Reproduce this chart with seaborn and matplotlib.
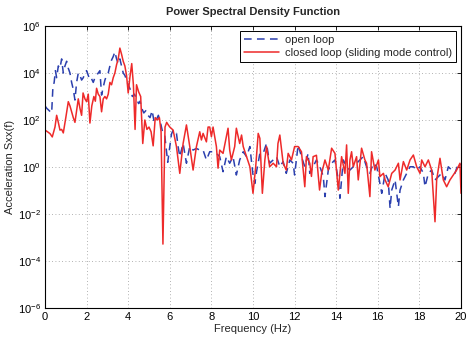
import numpy as np
import pandas as pd
import matplotlib
matplotlib.use("Agg")
import matplotlib.pyplot as plt
import seaborn as sns

# ---------------- data (PSD values as log10 exponents) -------------
open_freq = [0.0, 0.08, 0.2, 0.32, 0.38, 0.44, 0.5, 0.56, 0.64, 0.72, 0.8, 0.88, 0.96, 1.04, 1.12,
             1.2, 1.28, 1.36, 1.44, 1.52, 1.6, 1.68, 1.76, 1.84, 1.92, 2.0, 2.08, 2.16, 2.24, 2.32,
             2.4, 2.48, 2.56, 2.64, 2.72, 2.8, 2.88, 2.96, 3.04, 3.12, 3.2, 3.28, 3.36, 3.44, 3.52,
             3.6, 3.68, 3.76, 3.84, 3.92, 4.0, 4.1, 4.2, 4.3, 4.4, 4.5, 4.57, 4.65, 4.75, 4.85,
             4.95, 5.05, 5.15, 5.25, 5.35, 5.45, 5.55, 5.65, 5.75, 5.85, 5.9, 6.0, 6.08, 6.16, 6.24,
             6.32, 6.4, 6.48, 6.64, 6.72, 6.8, 6.96, 7.12, 7.28, 7.44, 7.6, 7.76, 7.92, 8.08, 8.24,
             8.4, 8.56, 8.72, 8.88, 9.04, 9.2, 9.36, 9.53, 9.69, 9.85, 10.0, 10.09, 10.17, 10.33,
             10.49, 10.65, 10.8, 10.97, 11.13, 11.29, 11.45, 11.6, 11.77, 11.93, 12.0, 12.17, 12.33,
             12.49, 12.65, 12.73, 12.89, 13.05, 13.22, 13.38, 13.46, 13.62, 13.78, 13.94, 14.1,
             14.18, 14.34, 14.5, 14.66, 14.82, 14.98, 15.14, 15.3, 15.46, 15.62, 15.78, 15.95,
             16.1, 16.19, 16.35, 16.5, 16.59, 16.67, 16.83, 16.99, 17.07, 17.23, 17.39, 17.55,
             17.71, 17.87, 18.03, 18.19, 18.27, 18.43, 18.59, 18.75, 18.91, 19.07, 19.23, 19.39,
             19.55, 19.71, 19.87, 20.0]
open_log10 = [2.6, 2.5, 2.4, 2.3, 3.4, 3.6, 4.1, 3.8, 4.3, 4.2, 4.6, 4.0, 4.3, 4.5, 4.2,
              4.0, 3.6, 3.3, 2.85, 3.6, 4.0, 3.9, 3.7, 3.8, 4.0, 4.1, 3.9, 3.7, 3.75, 3.6,
              3.8, 3.9, 4.0, 4.1, 3.06, 3.4, 3.7, 3.9, 4.0, 4.3, 4.55, 4.7, 4.9, 4.6, 4.4,
              4.6, 4.3, 4.0, 3.9, 3.7, 3.5, 3.3, 3.0, 3.1, 2.9, 2.7, 2.8, 2.5, 2.3, 2.4,
              2.2, 2.1, 2.4, 1.9, 2.0, 2.2, 1.9, 1.5, 1.4, 0.6, 0.2, 0.87, 1.4, 1.57, 1.43,
              1.43, 0.87, 0.44, 1.0, 0.58, 0.16, 0.87, 0.72, 0.79, 0.72, 0.72, 0.3, 0.65, 0.65, 0.58,
              0.44, -0.2, 0.44, 0.16, 0.44, -0.34, 0.3, 0.65, 0.44, 0.87, -0.34, -0.7, -0.2, 0.58,
              0.58, 1.0, 0.16, 0.3, 0.44, 0.01, 0.23, -0.27, 0.3, 0.16, -0.34, 0.94, 0.44,
              0.01, 0.58, -0.27, 0.01, 0.3, 0.01, -0.41, -1.26, -0.13, 0.16, 0.3, -0.55,
              -1.33, 0.3, 0.01, -0.13, 0.01, 0.16, 0.3, 0.44, 0.01, -0.27, 0.16, 0.01,
              -0.7, -1.12, -0.27, -0.55, -1.76, -0.98, -0.55, -1.69, -0.98, -0.55, -0.27, 0.01,
              0.01, -0.13, 0.01, -0.27, -0.84, -0.27, -0.13, -0.55, -0.41, -0.27, -0.55, 0.01,
              -0.13, -0.27, 0.16, 0.09]

closed_freq = [0.0, 0.12, 0.24, 0.35, 0.42, 0.48, 0.56, 0.64, 0.72, 0.8, 0.88, 1.0, 1.12, 1.2,
               1.28, 1.36, 1.44, 1.52, 1.6, 1.68, 1.76, 1.83, 1.92, 2.0, 2.08, 2.16, 2.25, 2.35,
               2.42, 2.48, 2.56, 2.64, 2.72, 2.8, 2.88, 2.96, 3.04, 3.12, 3.2, 3.28, 3.36, 3.44,
               3.52, 3.6, 3.68, 3.76, 3.84, 3.92, 4.0, 4.08, 4.17, 4.25, 4.33, 4.4, 4.5, 4.6,
               4.7, 4.8, 4.9, 5.0, 5.1, 5.2, 5.3, 5.4, 5.5, 5.58, 5.67, 5.77, 5.85, 5.92, 6.0,
               6.16, 6.32, 6.48, 6.64, 6.8, 6.96, 7.12, 7.28, 7.44, 7.52, 7.6, 7.76, 7.84, 7.92,
               8.0, 8.08, 8.24, 8.32, 8.4, 8.56, 8.8, 8.88, 8.96, 9.12, 9.2, 9.36, 9.45, 9.53,
               9.69, 9.85, 10.0, 10.13, 10.25, 10.33, 10.45, 10.57, 10.65, 10.8, 10.97, 11.13,
               11.2, 11.29, 11.45, 11.6, 11.69, 11.85, 12.0, 12.17, 12.33, 12.49, 12.57, 12.73,
               12.81, 12.89, 13.05, 13.2, 13.3, 13.46, 13.62, 13.78, 13.94, 14.1, 14.26, 14.42,
               14.5, 14.58, 14.66, 14.74, 14.82, 14.98, 15.06, 15.22, 15.38, 15.46, 15.62, 15.7,
               15.86, 16.03, 16.1, 16.27, 16.35, 16.5, 16.67, 16.83, 16.99, 17.07, 17.23, 17.39,
               17.55, 17.71, 17.87, 18.03, 18.11, 18.27, 18.43, 18.59, 18.75, 18.83, 18.99,
               19.15, 19.31, 19.47, 19.63, 19.79, 19.95, 20.0]
closed_log10 = [1.57, 1.5, 1.42, 1.28, 1.5, 1.7, 2.2, 1.9, 1.57, 1.6, 1.45, 2.1, 2.78, 2.6,
                2.35, 2.1, 1.9, 2.4, 2.9, 2.5, 2.2, 3.15, 2.9, 2.78, 3.1, 1.87, 2.6, 3.0,
                2.8, 3.35, 3.1, 3.0, 2.35, 2.9, 3.0, 2.9, 3.1, 3.6, 3.5, 3.8, 4.0, 4.35,
                4.6, 5.06, 4.8, 4.5, 4.3, 3.9, 3.15, 3.8, 4.4, 3.5, 1.6, 3.5, 3.2, 3.0,
                1.0, 2.0, 1.6, 1.7, 1.5, 0.9, 2.1, 2.0, 2.1, 1.5, -3.28, 1.7, 1.9, 1.8, 1.7,
                1.57, 0.87, -0.27, 1.0, 1.79, 0.87, -0.13, 0.87, 1.5, 1.15, 1.43, 1.07, 1.7, 1.7,
                1.29, 1.7, 0.87, -0.05, 0.72, 0.58, 1.65, 0.72, 0.3, 0.87, 1.65, 1.0, 1.36, 0.87,
                0.44, 0.01, -1.12, 0.01, 1.43, 1.22, -1.12, 0.3, 0.87, 0.01, 0.16, 0.01,
                1.0, 1.36, 0.16, -0.13, 0.58, 0.3, 0.87, 0.87, 0.65, -0.84, 0.44, 0.16,
                -0.4, 0.44, 0.5, -0.98, -0.27, 0.3, -0.13, 0.8, 0.58, -0.98, 0.44, -0.27,
                0.94, -1.12, 0.3, 0.65, 0.01, 0.44, -0.55, 0.8, 0.3, 0.16, -1.26, 0.65,
                -0.13, 0.3, -0.41, -0.27, -0.55, -0.84, -0.27, -0.13, 0.16, -0.55, 0.23, -0.13,
                0.3, 0.51, 0.01, -0.27, 0.3, 0.01, 0.3, -0.13, -2.33, -0.55, 0.37,
                -0.55, -0.84, -0.55, -0.34, -0.13, 0.16, -1.12]

labels = ["open loop", "closed loop (sliding mode control)"]
title = "Power Spectral Density Function"
xlabel = "Frequency (Hz)"
ylabel = "Acceleration Sxx(f)"
xticks = [0, 2, 4, 6, 8, 10, 12, 14, 16, 18, 20]
yexps = [-6, -4, -2, 0, 2, 4, 6]

# ---------------- plot ----------------
sns.set_theme(style="white")
plt.rcParams["font.family"] = ["Liberation Sans", "DejaVu Sans"]
plt.rcParams["mathtext.fontset"] = "custom"
plt.rcParams["mathtext.rm"] = "Liberation Sans"

df_open = pd.DataFrame({"f": open_freq, "psd": 10.0 ** np.array(open_log10)})
df_closed = pd.DataFrame({"f": closed_freq, "psd": 10.0 ** np.array(closed_log10)})

fig = plt.figure(figsize=(4.66, 3.37), dpi=100)
ax = fig.add_axes([45 / 466, 1 - 308 / 337, (461 - 45) / 466, (308 - 26) / 337])

sns.lineplot(data=df_open, x="f", y="psd", ax=ax, color="#2b3fae", lw=1.1,
             label=labels[0], estimator=None, sort=False)
ax.lines[-1].set_dashes((5, 3.5))
sns.lineplot(data=df_closed, x="f", y="psd", ax=ax, color="#ee2a2a", lw=1.1,
             label=labels[1], estimator=None, sort=False)

ax.set_yscale("log")
ax.set_xlim(0, 20)
ax.set_ylim(1e-6, 1e6)
ax.set_xticks(xticks)
ax.set_xticklabels([str(t) for t in xticks])
ax.set_yticks([10.0 ** e for e in yexps])
ax.set_yticklabels([r"$10^{%d}$" % e for e in yexps])
ax.yaxis.set_minor_locator(matplotlib.ticker.NullLocator())
ax.tick_params(axis="both", which="major", direction="in", length=3, width=0.6,
               top=True, right=True, labelsize=8, colors="black", pad=3)
for s in ax.spines.values():
    s.set_color("black")
    s.set_linewidth(0.8)
ax.grid(True, which="major", linestyle=(0, (1, 3)), color="#999999", linewidth=0.6)

ax.set_title(title, fontsize=8, fontweight="bold", pad=8)
ax.set_xlabel(xlabel, fontsize=8, labelpad=1)
ax.set_ylabel(ylabel, fontsize=8, labelpad=2)

leg = ax.legend(loc="upper right", fontsize=8, frameon=True, fancybox=False,
                borderpad=0.35, handlelength=3.2, handletextpad=0.5, labelspacing=0.25,
                borderaxespad=0.45)
leg.get_frame().set_edgecolor("black")
leg.get_frame().set_linewidth(0.7)
leg.get_frame().set_alpha(1)

fig.savefig("out.png", dpi=100)
